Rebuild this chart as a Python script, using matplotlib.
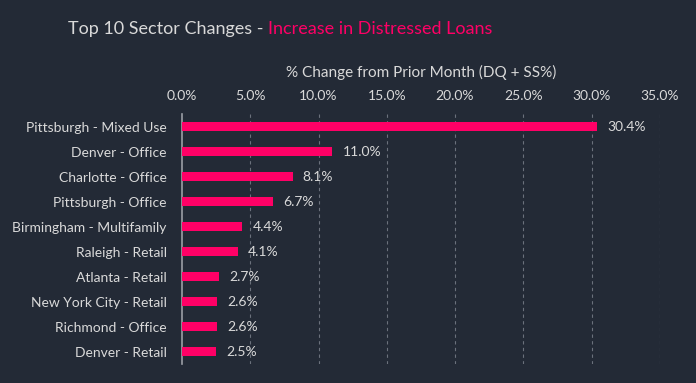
import matplotlib.pyplot as plt

categories = ['Pittsburgh - Mixed Use', 'Denver - Office', 'Charlotte - Office',
              'Pittsburgh - Office', 'Birmingham - Multifamily', 'Raleigh - Retail',
              'Atlanta - Retail', 'New York City - Retail', 'Richmond - Office',
              'Denver - Retail']
values = [30.4, 11.0, 8.1, 6.7, 4.4, 4.1, 2.7, 2.6, 2.6, 2.5]
xticks = [0, 5, 10, 15, 20, 25, 30, 35]

bg = '#232a36'
pink = '#ff0066'
txt = '#d9d9d9'
grid = '#6b717c'

plt.rcParams['font.family'] = ['Lato', 'DejaVu Sans']

fig = plt.figure(figsize=(6.96, 3.83), dpi=100, facecolor=bg)
ax = fig.add_axes([0.2615, 0.0496, 0.948 - 0.2615, 0.7023 - 0.0496])
ax.set_facecolor(bg)

y = list(range(len(categories)))
ax.barh(y, values, height=0.35, color=pink, zorder=3)
for yi, v in zip(y, values):
    ax.text(v + 0.75, yi, '%.1f%%' % v, color=txt, fontsize=10, va='center', ha='left')

ax.set_xlim(0, 35)
ax.set_ylim(len(categories) - 0.5, -0.5)
ax.set_yticks(y)
ax.set_yticklabels(categories, color=txt, fontsize=10)
ax.set_xticks(xticks)
ax.set_xticklabels(['%.1f%%' % t for t in xticks], color=txt, fontsize=10)
ax.xaxis.tick_top()
ax.xaxis.set_label_position('top')
ax.set_xlabel('% Change from Prior Month (DQ + SS%)', color=txt, fontsize=11, labelpad=9)
ax.tick_params(axis='both', length=0)
ax.tick_params(axis='y', pad=11)
ax.tick_params(axis='x', pad=9)

for t in xticks[1:]:
    ax.axvline(t, color=grid, lw=0.8, ls=(0, (3, 3)), zorder=1)
for s in ['top', 'right', 'bottom']:
    ax.spines[s].set_visible(False)
ax.spines['left'].set_color('#9a9ea5')
ax.spines['left'].set_linewidth(1.2)

fig.text(0.098, 0.925, 'Top 10 Sector Changes - ', color=txt, fontsize=13, va='center')
fig.canvas.draw()
r = fig.texts[0].get_window_extent()
fig.text(r.x1 / fig.bbox.width, 0.925, 'Increase in Distressed Loans', color=pink,
         fontsize=13, va='center')

fig.savefig('out.png', dpi=100, facecolor=bg)
